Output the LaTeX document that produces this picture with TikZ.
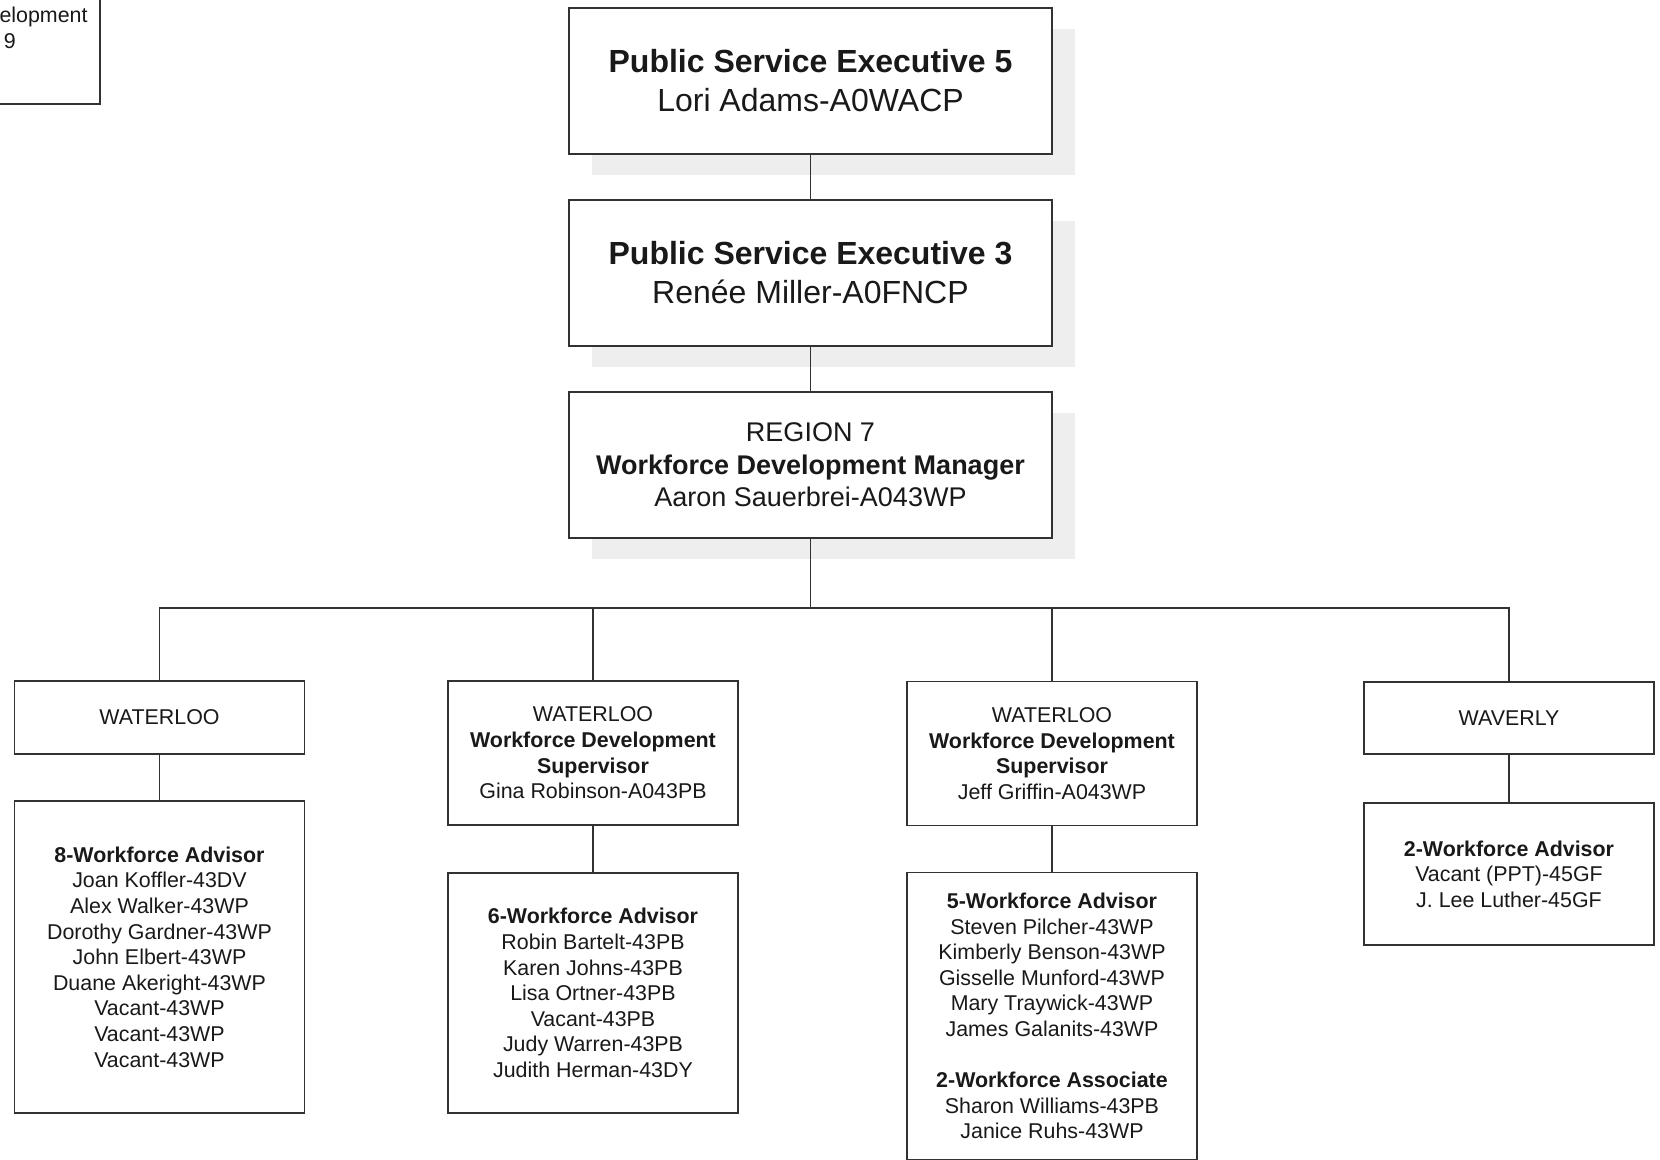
\documentclass[tikz,border=0pt]{standalone}
\usepackage{fontspec}
\setmainfont{Liberation Sans}
\usepackage{tikz}
\usetikzlibrary{positioning, shadows}
\definecolor{boxline}{RGB}{50,50,50}
\definecolor{inktext}{RGB}{25,25,25}
\definecolor{shadegray}{RGB}{238,238,238}
\tikzset{
  topbox/.style={rectangle, draw=boxline, fill=white, line width=0.8pt,
    minimum width=241.5pt, minimum height=73pt, align=center, text=inktext,
    font=\fontsize{16}{19.5}\selectfont,
    drop shadow={shadow xshift=11.5pt, shadow yshift=-10.5pt, fill=shadegray, opacity=1}},
  mgrfont/.style={font=\fontsize{13.5}{16.3}\selectfont},
  officebox/.style={rectangle, draw=boxline, fill=white, line width=0.8pt,
    minimum width=145pt, align=center, text=inktext,
    font=\fontsize{10.7}{12.8}\selectfont},
  staffbox/.style={officebox},
  sidebox/.style={officebox, minimum width=127pt, minimum height=74pt},
  conn/.style={draw=boxline, line width=0.8pt}
}

\begin{document}
\begin{tikzpicture}[x=0.5pt, y=-0.5pt]
  \useasboundingbox (0,0) rectangle (1660,1160);

  % Corner block, cut by the page edge
  \node[sidebox] (corner) at (-27,30) {Workforce Development\\Region 9};

  % Executive blocks
  \node[topbox] (pse5) at (810.5,81) {\textbf{Public Service Executive 5}\\Lori Adams-A0WACP};
  \node[topbox] (pse3) at (810.5,273) {\textbf{Public Service Executive 3}\\Renée Miller-A0FNCP};
  \node[topbox, mgrfont] (mgr) at (810.5,465)
    {REGION 7\\\textbf{Workforce Development Manager}\\Aaron Sauerbrei-A043WP};

  \draw[conn] (pse5) -- (pse3);
  \draw[conn] (pse3) -- (mgr);

  % Office blocks
  \node[officebox, minimum height=36.5pt] (wat1) at (159.5,717.5) {WATERLOO};
  \node[officebox, minimum height=72pt] (wat2) at (593,753)
    {WATERLOO\\\textbf{Workforce Development}\\\textbf{Supervisor}\\Gina Robinson-A043PB};
  \node[officebox, minimum height=72pt] (wat3) at (1052,753.5)
    {WATERLOO\\\textbf{Workforce Development}\\\textbf{Supervisor}\\Jeff Griffin-A043WP};
  \node[officebox, minimum height=36pt] (wav) at (1509,718) {WAVERLY};

  % Bus
  \coordinate (bus) at (810.5,608);
  \draw[conn] (mgr) -- (bus);
  \foreach \o in {wat1, wat2, wat3, wav}
    \draw[conn] (bus) -| (\o.north);

  % Staff blocks
  \node[staffbox, minimum height=156pt] (wat1staff) at (159.5,957)
    {\textbf{8-Workforce Advisor}\\Joan Koffler-43DV\\Alex Walker-43WP\\Dorothy Gardner-43WP\\John Elbert-43WP\\Duane Akeright-43WP\\Vacant-43WP\\Vacant-43WP\\Vacant-43WP};
  \node[staffbox, minimum height=120pt] (wat2staff) at (593,993)
    {\textbf{6-Workforce Advisor}\\Robin Bartelt-43PB\\Karen Johns-43PB\\Lisa Ortner-43PB\\Vacant-43PB\\Judy Warren-43PB\\Judith Herman-43DY};
  \node[staffbox, minimum height=143.5pt] (wat3staff) at (1052,1016)
    {\textbf{5-Workforce Advisor}\\Steven Pilcher-43WP\\Kimberly Benson-43WP\\Gisselle Munford-43WP\\Mary Traywick-43WP\\James Galanits-43WP\\[12.8pt]\textbf{2-Workforce Associate}\\Sharon Williams-43PB\\Janice Ruhs-43WP};
  \node[staffbox, minimum height=71pt] (wavstaff) at (1509,874)
    {\textbf{2-Workforce Advisor}\\Vacant (PPT)-45GF\\J. Lee Luther-45GF};

  \foreach \o in {wat1, wat2, wat3, wav}
    \draw[conn] (\o) -- (\o staff);
\end{tikzpicture}
\end{document}
